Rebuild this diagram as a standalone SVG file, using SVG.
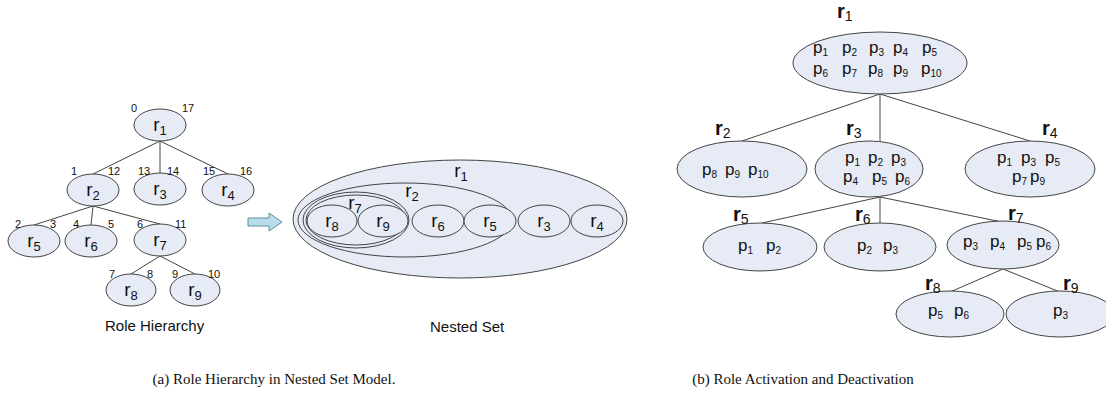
<svg xmlns="http://www.w3.org/2000/svg" width="1106" height="406" viewBox="0 0 1106 406">
<style>
.n{fill:#e6ebf5;stroke:#444;stroke-width:1}
.o{fill:none;stroke:#444;stroke-width:1}
.e{stroke:#444;stroke-width:1;fill:none}
.lr{font-family:"Liberation Sans",Arial,sans-serif;font-size:19px;fill:#111;text-anchor:middle}
.ls{font-size:13px}
.num{font-family:"Liberation Sans",Arial,sans-serif;font-size:11px;fill:#111}
.cap{font-family:"Liberation Sans",Arial,sans-serif;font-size:15px;fill:#111;text-anchor:start}
.rr{font-family:"Liberation Sans",Arial,sans-serif;font-size:20px;font-weight:bold;fill:#111}
.rs{font-size:14px;font-weight:normal}
.p{font-family:"Liberation Sans",Arial,sans-serif;font-size:17px;fill:#111}
.ps{font-size:10px}
.fig{font-family:"Liberation Serif","Times New Roman",serif;font-size:15px;fill:#111;text-anchor:middle}
</style>

<g id="edges">
<line class="e" x1="160" y1="141" x2="93" y2="174"/>
<line class="e" x1="160" y1="141" x2="160" y2="173"/>
<line class="e" x1="160" y1="141" x2="228" y2="174"/>
<line class="e" x1="93" y1="206" x2="34" y2="225"/>
<line class="e" x1="93" y1="206" x2="91" y2="225"/>
<line class="e" x1="93" y1="206" x2="160" y2="224"/>
<line class="e" x1="160" y1="256" x2="131" y2="274"/>
<line class="e" x1="160" y1="256" x2="195" y2="274"/>
<line class="e" x1="880" y1="94" x2="742" y2="141"/>
<line class="e" x1="880" y1="94" x2="880" y2="141"/>
<line class="e" x1="880" y1="94" x2="1030" y2="141"/>
<line class="e" x1="880" y1="197" x2="762" y2="223"/>
<line class="e" x1="880" y1="197" x2="880" y2="223"/>
<line class="e" x1="880" y1="197" x2="1002" y2="222"/>
<line class="e" x1="1003" y1="269" x2="950" y2="292"/>
<line class="e" x1="1003" y1="269" x2="1060" y2="292"/>
</g>

<!-- Left tree -->
<g id="L_r1"><ellipse class="n" cx="160" cy="125" rx="26" ry="16"/><text class="lr" x="160" y="131">r<tspan class="ls" dy="4">1</tspan></text>
<text class="num" x="131" y="112">0</text><text class="num" x="182" y="112">17</text></g>
<g id="L_r2"><ellipse class="n" cx="93" cy="190" rx="26" ry="16"/><text class="lr" x="93" y="196">r<tspan class="ls" dy="4">2</tspan></text>
<text class="num" x="71" y="175">1</text><text class="num" x="108" y="175">12</text></g>
<g id="L_r3"><ellipse class="n" cx="160" cy="189" rx="26" ry="16"/><text class="lr" x="160" y="195">r<tspan class="ls" dy="4">3</tspan></text>
<text class="num" x="138" y="175">13</text><text class="num" x="167" y="175">14</text></g>
<g id="L_r4"><ellipse class="n" cx="228" cy="190" rx="26" ry="16"/><text class="lr" x="228" y="196">r<tspan class="ls" dy="4">4</tspan></text>
<text class="num" x="203" y="175">15</text><text class="num" x="240" y="175">16</text></g>
<g id="L_r5"><ellipse class="n" cx="34" cy="241" rx="26" ry="16"/><text class="lr" x="34" y="247">r<tspan class="ls" dy="4">5</tspan></text>
<text class="num" x="15" y="228">2</text><text class="num" x="50" y="228">3</text></g>
<g id="L_r6"><ellipse class="n" cx="91" cy="241" rx="26" ry="16"/><text class="lr" x="91" y="247">r<tspan class="ls" dy="4">6</tspan></text>
<text class="num" x="73" y="228">4</text><text class="num" x="108" y="228">5</text></g>
<g id="L_r7"><ellipse class="n" cx="160" cy="240" rx="26" ry="16"/><text class="lr" x="160" y="246">r<tspan class="ls" dy="4">7</tspan></text>
<text class="num" x="137" y="228">6</text><text class="num" x="175" y="228">11</text></g>
<g id="L_r8"><ellipse class="n" cx="131" cy="290" rx="25" ry="16"/><text class="lr" x="131" y="296">r<tspan class="ls" dy="4">8</tspan></text>
<text class="num" x="109" y="278">7</text><text class="num" x="147" y="278">8</text></g>
<g id="L_r9"><ellipse class="n" cx="195" cy="290" rx="25" ry="16"/><text class="lr" x="195" y="296">r<tspan class="ls" dy="4">9</tspan></text>
<text class="num" x="172" y="278">9</text><text class="num" x="208" y="278">10</text></g>
<text class="cap" x="105" y="331">Role Hierarchy</text>

<!-- Arrow -->
<g id="arrow"><polygon points="248,218 269,218 269,213 282,222 269,231 269,226 248,226" fill="#b7dde8" stroke="#5f8fa0" stroke-width="1"/></g>

<!-- Nested set -->
<g id="N_r1"><ellipse class="n" cx="460" cy="219" rx="167" ry="59"/><text class="lr" x="461" y="177">r<tspan class="ls" dy="4">1</tspan></text></g>
<g id="N_r2"><ellipse class="n" cx="405" cy="220" rx="107" ry="37"/><text class="lr" x="412" y="197">r<tspan class="ls" dy="4">2</tspan></text></g>
<g id="N_r7"><ellipse class="n" cx="356" cy="220" rx="53" ry="28"/><ellipse class="o" cx="356" cy="220" rx="50" ry="25"/><text class="lr" x="355" y="209">r<tspan class="ls" dy="4">7</tspan></text></g>
<g id="N_r8"><ellipse class="n" cx="332" cy="221" rx="25" ry="16"/><text class="lr" x="332" y="227">r<tspan class="ls" dy="4">8</tspan></text></g>
<g id="N_r9"><ellipse class="n" cx="383" cy="221" rx="25" ry="16"/><text class="lr" x="383" y="227">r<tspan class="ls" dy="4">9</tspan></text></g>
<g id="N_r6"><ellipse class="n" cx="438" cy="221" rx="26" ry="16"/><text class="lr" x="438" y="227">r<tspan class="ls" dy="4">6</tspan></text></g>
<g id="N_r5"><ellipse class="n" cx="490" cy="221" rx="26" ry="16"/><text class="lr" x="490" y="227">r<tspan class="ls" dy="4">5</tspan></text></g>
<g id="N_r3"><ellipse class="n" cx="544" cy="221" rx="26" ry="16"/><text class="lr" x="544" y="227">r<tspan class="ls" dy="4">3</tspan></text></g>
<g id="N_r4"><ellipse class="n" cx="597" cy="221" rx="26" ry="16"/><text class="lr" x="597" y="227">r<tspan class="ls" dy="4">4</tspan></text></g>
<text class="cap" x="430" y="332">Nested Set</text>

<!-- Right tree -->
<g id="R_r1"><ellipse class="n" cx="880" cy="63" rx="87" ry="31"/>
<text class="rr" x="837" y="18">r<tspan class="rs" dy="3">1</tspan></text>
<text class="p" y="53"><tspan x="813">p</tspan><tspan class="ps" dy="3">1</tspan><tspan x="842" dy="-3">p</tspan><tspan class="ps" dy="3">2</tspan><tspan x="869" dy="-3">p</tspan><tspan class="ps" dy="3">3</tspan><tspan x="893" dy="-3">p</tspan><tspan class="ps" dy="3">4</tspan><tspan x="922" dy="-3">p</tspan><tspan class="ps" dy="3">5</tspan></text>
<text class="p" y="74"><tspan x="813">p</tspan><tspan class="ps" dy="3">6</tspan><tspan x="842" dy="-3">p</tspan><tspan class="ps" dy="3">7</tspan><tspan x="868" dy="-3">p</tspan><tspan class="ps" dy="3">8</tspan><tspan x="893" dy="-3">p</tspan><tspan class="ps" dy="3">9</tspan><tspan x="921" dy="-3">p</tspan><tspan class="ps" dy="3">10</tspan></text></g>
<g id="R_r2"><ellipse class="n" cx="742" cy="169" rx="65" ry="28"/>
<text class="rr" x="715" y="135">r<tspan class="rs" dy="3">2</tspan></text>
<text class="p" y="175"><tspan x="702">p</tspan><tspan class="ps" dy="3">8</tspan><tspan x="725" dy="-3">p</tspan><tspan class="ps" dy="3">9</tspan><tspan x="748" dy="-3">p</tspan><tspan class="ps" dy="3">10</tspan></text></g>
<g id="R_r3"><ellipse class="n" cx="869" cy="169" rx="54" ry="28"/>
<text class="rr" x="846" y="135">r<tspan class="rs" dy="3">3</tspan></text>
<text class="p" y="163"><tspan x="845">p</tspan><tspan class="ps" dy="3">1</tspan><tspan x="868" dy="-3">p</tspan><tspan class="ps" dy="3">2</tspan><tspan x="891" dy="-3">p</tspan><tspan class="ps" dy="3">3</tspan></text>
<text class="p" y="182"><tspan x="843">p</tspan><tspan class="ps" dy="3">4</tspan><tspan x="872" dy="-3">p</tspan><tspan class="ps" dy="3">5</tspan><tspan x="895" dy="-3">p</tspan><tspan class="ps" dy="3">6</tspan></text></g>
<g id="R_r4"><ellipse class="n" cx="1030" cy="169" rx="65" ry="28"/>
<text class="rr" x="1042" y="135">r<tspan class="rs" dy="3">4</tspan></text>
<text class="p" y="163"><tspan x="997">p</tspan><tspan class="ps" dy="3">1</tspan><tspan x="1021" dy="-3">p</tspan><tspan class="ps" dy="3">3</tspan><tspan x="1045" dy="-3">p</tspan><tspan class="ps" dy="3">5</tspan></text>
<text class="p" y="182"><tspan x="1012">p</tspan><tspan class="ps" dy="3">7</tspan><tspan x="1030" dy="-3">p</tspan><tspan class="ps" dy="3">9</tspan></text></g>
<g id="R_r5"><ellipse class="n" cx="760" cy="247" rx="57" ry="24"/>
<text class="rr" x="733" y="221">r<tspan class="rs" dy="3">5</tspan></text>
<text class="p" y="251"><tspan x="738">p</tspan><tspan class="ps" dy="3">1</tspan><tspan x="766" dy="-3">p</tspan><tspan class="ps" dy="3">2</tspan></text></g>
<g id="R_r6"><ellipse class="n" cx="880" cy="247" rx="56" ry="24"/>
<text class="rr" x="855" y="221">r<tspan class="rs" dy="3">6</tspan></text>
<text class="p" y="251"><tspan x="857">p</tspan><tspan class="ps" dy="3">2</tspan><tspan x="883" dy="-3">p</tspan><tspan class="ps" dy="3">3</tspan></text></g>
<g id="R_r7"><ellipse class="n" cx="1003" cy="245" rx="56" ry="24"/>
<text class="rr" x="1008" y="220">r<tspan class="rs" dy="3">7</tspan></text>
<text class="p" y="247"><tspan x="963">p</tspan><tspan class="ps" dy="3">3</tspan><tspan x="990" dy="-3">p</tspan><tspan class="ps" dy="3">4</tspan><tspan x="1017" dy="-3">p</tspan><tspan class="ps" dy="3">5</tspan><tspan x="1036" dy="-3">p</tspan><tspan class="ps" dy="3">6</tspan></text></g>
<g id="R_r8"><ellipse class="n" cx="950" cy="314" rx="54" ry="23"/>
<text class="rr" x="925" y="290">r<tspan class="rs" dy="3">8</tspan></text>
<text class="p" y="316"><tspan x="928">p</tspan><tspan class="ps" dy="3">5</tspan><tspan x="954" dy="-3">p</tspan><tspan class="ps" dy="3">6</tspan></text></g>
<g id="R_r9"><ellipse class="n" cx="1060" cy="314" rx="54" ry="23"/>
<text class="rr" x="1063" y="290">r<tspan class="rs" dy="3">9</tspan></text>
<text class="p" y="316"><tspan x="1053">p</tspan><tspan class="ps" dy="3">3</tspan></text></g>

<text class="fig" x="274" y="384">(a) Role Hierarchy in Nested Set Model.</text>
<text class="fig" x="803" y="384">(b) Role Activation and Deactivation</text>
</svg>
